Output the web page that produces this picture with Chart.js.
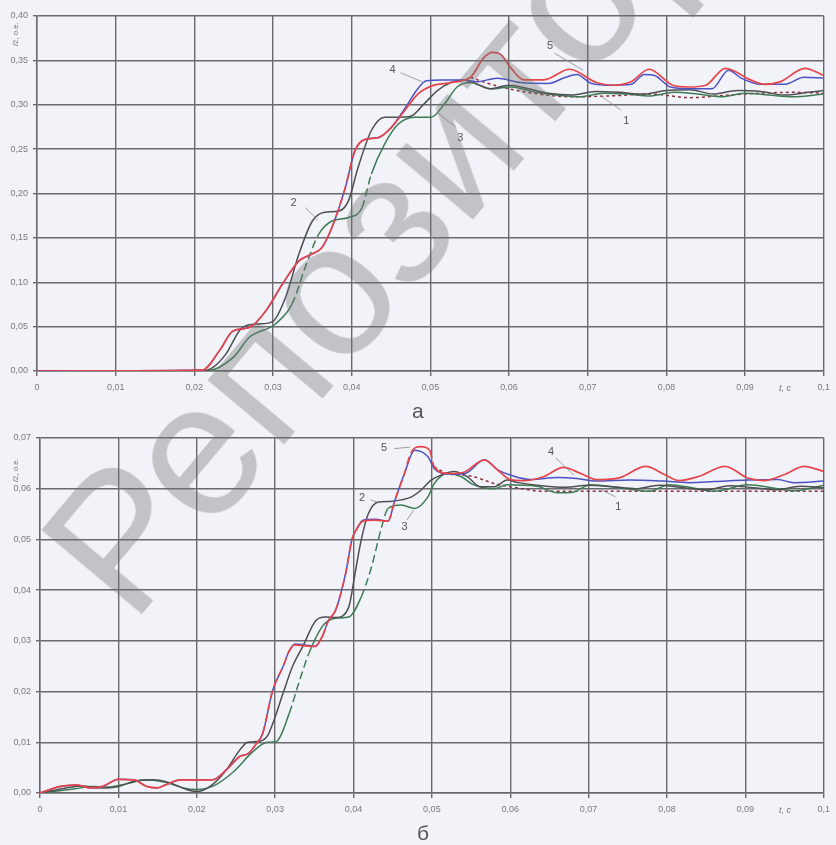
<!DOCTYPE html>
<html>
<head>
<meta charset="utf-8">
<script src="https://cdn.jsdelivr.net/npm/chart.js@4.4.1/dist/chart.umd.min.js"></script>
<style>
    body { margin: 0; width: 836px; height: 845px; overflow: hidden; position: relative;
           background: #f1f3f9; font-family: 'Liberation Sans', Arial, sans-serif; }
    .box { position: absolute; left: 0; width: 836px; height: 400px; }
    #boxA { top: 0; }
    #boxB { top: 420px; }
    .ytitle { position: absolute; font-size: 8px; color: #777; transform: rotate(-90deg);
              transform-origin: left top; white-space: nowrap; }
    .xtitle { position: absolute; font-size: 9px; color: #777; font-style: italic; }
    .cap { position: absolute; font-size: 21px; color: #555; }
    .wm { position: absolute; left: 0; top: 0; white-space: nowrap; pointer-events: none;
          font-size: 190px; color: rgba(110, 110, 110, 0.36); transform-origin: center center; }
</style>
</head>
<body>
<div class="box" id="boxA"><canvas id="chartA" width="836" height="400"></canvas></div>
<div class="box" id="boxB"><canvas id="chartB" width="836" height="400"></canvas></div>

<div class="ytitle" style="left:11px; top:46px;"><i>i</i>2, о.е.</div>
<div class="ytitle" style="left:11px; top:482px;"><i>i</i>2, о.е.</div>
<div class="xtitle" style="left:779px; top:383px;">t, c</div>
<div class="xtitle" style="left:779px; top:805px;">t, c</div>
<div class="cap" style="left:412px; top:399px;">а</div>
<div class="cap" style="left:417px; top:821px;">б</div>

<div class="wm" id="wm">Репозиторий</div>

<script>
// shared x axis
const xTicks = [0, 0.01, 0.02, 0.03, 0.04, 0.05, 0.06, 0.07, 0.08, 0.09, 0.1];
const xTickLabels = ['0', '0,01', '0,02', '0,03', '0,04', '0,05', '0,06', '0,07', '0,08', '0,09', '0,1'];

// chart "а"
const aTicks = [0, 0.05, 0.10, 0.15, 0.20, 0.25, 0.30, 0.35, 0.40];
const aTickLabels = ['0,00', '0,05', '0,10', '0,15', '0,20', '0,25', '0,30', '0,35', '0,40'];

const a5T = [0, 0.021, 0.0232, 0.0249, 0.027, 0.0291, 0.0312, 0.0333, 0.035, 0.0362, 0.0375, 0.0392, 0.0404, 0.0417, 0.0434, 0.045, 0.0467, 0.0484, 0.0501, 0.0526, 0.0551, 0.0568, 0.0579, 0.0589, 0.0601, 0.0619, 0.0644, 0.0677, 0.0711, 0.0732, 0.0755, 0.0778, 0.0808, 0.0828, 0.085, 0.0875, 0.0907, 0.0925, 0.0945, 0.0976, 0.1];
const a5V = [0, 0.001, 0.023, 0.045, 0.049, 0.068, 0.098, 0.124, 0.132, 0.139, 0.162, 0.207, 0.248, 0.261, 0.263, 0.274, 0.293, 0.312, 0.321, 0.325, 0.331, 0.353, 0.359, 0.357, 0.343, 0.328, 0.328, 0.340, 0.325, 0.322, 0.326, 0.340, 0.322, 0.320, 0.322, 0.341, 0.328, 0.323, 0.326, 0.341, 0.333];

const a4T = [0, 0.021, 0.0232, 0.0249, 0.027, 0.0291, 0.0312, 0.0333, 0.035, 0.0362, 0.0375, 0.0392, 0.0404, 0.0417, 0.0434, 0.045, 0.0467, 0.0484, 0.0495, 0.0515, 0.054, 0.056, 0.0585, 0.0615, 0.065, 0.0672, 0.0686, 0.0705, 0.073, 0.0755, 0.0772, 0.0785, 0.0805, 0.083, 0.0858, 0.0879, 0.0895, 0.092, 0.095, 0.0975, 0.1];
const a4V = [0, 0.001, 0.023, 0.045, 0.049, 0.068, 0.098, 0.124, 0.132, 0.139, 0.162, 0.207, 0.248, 0.261, 0.263, 0.274, 0.295, 0.318, 0.327, 0.328, 0.328, 0.326, 0.330, 0.325, 0.324, 0.331, 0.334, 0.324, 0.322, 0.323, 0.334, 0.333, 0.320, 0.318, 0.318, 0.339, 0.330, 0.323, 0.323, 0.331, 0.330];

const a2T = [0, 0.021, 0.0225, 0.024, 0.0261, 0.0282, 0.03, 0.0316, 0.0333, 0.035, 0.0366, 0.0383, 0.0396, 0.0408, 0.0425, 0.0442, 0.0459, 0.0475, 0.0492, 0.0509, 0.0526, 0.0543, 0.056, 0.0576, 0.06, 0.0625, 0.065, 0.068, 0.071, 0.074, 0.077, 0.08, 0.083, 0.086, 0.089, 0.092, 0.095, 0.098, 0.1];
const a2V = [0, 0, 0.005, 0.019, 0.049, 0.053, 0.056, 0.083, 0.132, 0.169, 0.179, 0.180, 0.192, 0.229, 0.271, 0.286, 0.286, 0.287, 0.301, 0.316, 0.325, 0.328, 0.323, 0.318, 0.322, 0.318, 0.313, 0.311, 0.315, 0.314, 0.312, 0.316, 0.317, 0.312, 0.316, 0.315, 0.311, 0.314, 0.316];

const a3T = [0, 0.0215, 0.0249, 0.027, 0.0303, 0.0324, 0.0341, 0.0358, 0.0375, 0.0396, 0.0413, 0.0425, 0.0442, 0.0459, 0.048, 0.0501, 0.0518, 0.0534, 0.0551, 0.0576, 0.0602, 0.063, 0.066, 0.069, 0.072, 0.075, 0.078, 0.081, 0.084, 0.087, 0.09, 0.093, 0.096, 0.1];
const a3V = [0, 0, 0.015, 0.038, 0.053, 0.075, 0.117, 0.154, 0.169, 0.173, 0.184, 0.222, 0.256, 0.278, 0.286, 0.286, 0.301, 0.320, 0.325, 0.318, 0.320, 0.315, 0.311, 0.309, 0.313, 0.312, 0.310, 0.314, 0.312, 0.309, 0.313, 0.311, 0.309, 0.312];

const a1T = [0.0551, 0.057, 0.0595, 0.063, 0.068, 0.073, 0.078, 0.083, 0.088, 0.092, 0.096, 0.1];
const a1V = [0.331, 0.325, 0.319, 0.313, 0.309, 0.310, 0.312, 0.308, 0.311, 0.313, 0.314, 0.313];

// chart "б"
const bTicks = [0, 0.01, 0.02, 0.03, 0.04, 0.05, 0.06, 0.07];
const bTickLabels = ['0,00', '0,01', '0,02', '0,03', '0,04', '0,05', '0,06', '0,07'];

const b5T = [0, 0.0026, 0.0047, 0.0064, 0.008, 0.01, 0.012, 0.0136, 0.015, 0.016, 0.018, 0.02, 0.022, 0.0238, 0.0255, 0.0266, 0.0276, 0.0284, 0.0297, 0.031, 0.0318, 0.0325, 0.0338, 0.0351, 0.036, 0.0368, 0.0377, 0.039, 0.0398, 0.0404, 0.0412, 0.0428, 0.0444, 0.0453, 0.0465, 0.0474, 0.0486, 0.0497, 0.0503, 0.0521, 0.054, 0.0567, 0.0584, 0.06, 0.062, 0.0643, 0.0668, 0.069, 0.071, 0.074, 0.0773, 0.0798, 0.0815, 0.084, 0.0874, 0.0903, 0.0924, 0.095, 0.0975, 0.1];
const b5V = [0, 0.0013, 0.0016, 0.001, 0.0013, 0.0027, 0.0026, 0.0013, 0.001, 0.0016, 0.0026, 0.0026, 0.0026, 0.0046, 0.0072, 0.0078, 0.0097, 0.0117, 0.0203, 0.0249, 0.028, 0.0292, 0.029, 0.0289, 0.0308, 0.034, 0.036, 0.0433, 0.05, 0.052, 0.0536, 0.0538, 0.0536, 0.0578, 0.063, 0.0673, 0.0683, 0.0676, 0.0643, 0.063, 0.0632, 0.0657, 0.0637, 0.0618, 0.0616, 0.0624, 0.0642, 0.063, 0.0618, 0.0622, 0.0644, 0.0627, 0.0616, 0.0624, 0.0644, 0.0621, 0.0616, 0.0628, 0.0644, 0.0634];

const b4T = [0, 0.0026, 0.0047, 0.0064, 0.008, 0.01, 0.012, 0.0136, 0.015, 0.016, 0.018, 0.02, 0.022, 0.0238, 0.0255, 0.0266, 0.0276, 0.0284, 0.0297, 0.031, 0.0318, 0.0325, 0.0338, 0.0351, 0.036, 0.0368, 0.0377, 0.039, 0.0398, 0.0404, 0.0412, 0.0428, 0.0444, 0.0453, 0.0465, 0.0478, 0.0495, 0.0503, 0.0521, 0.0542, 0.0567, 0.0584, 0.06, 0.0626, 0.066, 0.0685, 0.071, 0.0752, 0.0794, 0.0828, 0.086, 0.0903, 0.0941, 0.0962, 0.1];
const b4V = [0, 0.0013, 0.0016, 0.001, 0.0013, 0.0027, 0.0026, 0.0013, 0.001, 0.0016, 0.0026, 0.0026, 0.0026, 0.0046, 0.0072, 0.0078, 0.0097, 0.0117, 0.0203, 0.0249, 0.028, 0.0294, 0.0292, 0.0289, 0.0308, 0.034, 0.036, 0.0433, 0.05, 0.052, 0.0538, 0.054, 0.0536, 0.0578, 0.063, 0.0676, 0.0663, 0.064, 0.0629, 0.063, 0.0657, 0.0637, 0.0627, 0.0618, 0.0622, 0.062, 0.0615, 0.0617, 0.0615, 0.0612, 0.0614, 0.0617, 0.0618, 0.0612, 0.0615];

const b2T = [0, 0.0034, 0.0055, 0.0077, 0.01, 0.012, 0.0145, 0.0166, 0.0187, 0.02, 0.0217, 0.0238, 0.0255, 0.0265, 0.028, 0.029, 0.0297, 0.031, 0.0322, 0.0335, 0.0352, 0.0364, 0.0378, 0.0394, 0.0402, 0.041, 0.0419, 0.0432, 0.0446, 0.0461, 0.0474, 0.0486, 0.0499, 0.0512, 0.0528, 0.0545, 0.0562, 0.058, 0.0596, 0.061, 0.064, 0.067, 0.07, 0.073, 0.076, 0.079, 0.082, 0.085, 0.088, 0.091, 0.094, 0.097, 0.1];
const b2V = [0, 0.001, 0.0014, 0.001, 0.0013, 0.0023, 0.0026, 0.002, 0.0007, 0.0003, 0.0013, 0.0046, 0.0085, 0.0100, 0.0102, 0.0112, 0.0137, 0.0196, 0.0249, 0.0288, 0.034, 0.0347, 0.0346, 0.0367, 0.0433, 0.05, 0.0551, 0.0574, 0.0575, 0.0578, 0.0584, 0.0597, 0.0617, 0.0627, 0.0634, 0.0624, 0.0604, 0.0604, 0.0617, 0.0612, 0.0606, 0.0603, 0.0607, 0.0604, 0.0600, 0.0607, 0.0602, 0.0598, 0.0606, 0.0602, 0.0598, 0.0605, 0.0602];

const b3T = [0, 0.0043, 0.0068, 0.0089, 0.011, 0.0136, 0.016, 0.0183, 0.02, 0.022, 0.0247, 0.0272, 0.029, 0.0301, 0.0318, 0.033, 0.0343, 0.036, 0.0368, 0.038, 0.0394, 0.041, 0.0423, 0.0436, 0.0444, 0.0461, 0.0478, 0.0495, 0.0503, 0.052, 0.0537, 0.0554, 0.058, 0.0596, 0.0634, 0.066, 0.068, 0.0702, 0.0744, 0.0777, 0.0803, 0.0835, 0.0861, 0.0903, 0.0941, 0.0962, 0.1];
const b3V = [0, 0.0008, 0.0013, 0.0012, 0.0018, 0.0026, 0.0021, 0.001, 0.0007, 0.0013, 0.0042, 0.0082, 0.0100, 0.0101, 0.0157, 0.0216, 0.0275, 0.0328, 0.034, 0.0345, 0.0347, 0.0387, 0.0446, 0.0525, 0.0561, 0.0568, 0.0561, 0.0584, 0.061, 0.063, 0.0624, 0.0607, 0.06, 0.0608, 0.0605, 0.0592, 0.0593, 0.0608, 0.0601, 0.0595, 0.0608, 0.0601, 0.0595, 0.0608, 0.06, 0.0596, 0.0607];

const b1T = [0.0503, 0.052, 0.055, 0.058, 0.0615, 0.064, 0.07, 0.08, 0.09, 0.1];
const b1V = [0.0643, 0.063, 0.0625, 0.061, 0.060, 0.0595, 0.0595, 0.0595, 0.0595, 0.0595];

// curve numbers: [text, x, y, leader x0, y0, x1, y1] in data units
const aNotes = [
    ['5', 0.0652, 0.366, 0.0658, 0.358, 0.0694, 0.339],
    ['4', 0.0452, 0.339, 0.0462, 0.336, 0.0492, 0.325],
    ['3', 0.0538, 0.263, 0.0532, 0.275, 0.0509, 0.291],
    ['2', 0.0326, 0.189, 0.0341, 0.184, 0.0357, 0.170],
    ['1', 0.0749, 0.282, 0.0742, 0.294, 0.0715, 0.311]
];
const bNotes = [
    ['5', 0.0439, 0.0680, 0.0452, 0.0679, 0.0472, 0.0682],
    ['4', 0.0652, 0.0673, 0.0658, 0.0661, 0.0681, 0.0627],
    ['2', 0.0411, 0.0582, 0.0422, 0.0578, 0.0433, 0.0572],
    ['3', 0.0465, 0.0525, 0.0468, 0.0538, 0.0477, 0.0558],
    ['1', 0.0738, 0.0564, 0.0734, 0.0584, 0.0716, 0.0598]
];

const gridColor = '#6a6a6e';
const tickColor = '#7a7a7e';

function pts(t, v) {
    return t.map((x, i) => ({ x: x, y: v[i] }));
}

// steep parts of the scanned curves look broken into dashes
function steepDash(yMax) {
    return ctx => {
        const dx = (ctx.p1.parsed.x - ctx.p0.parsed.x) / 0.1;
        const dy = Math.abs(ctx.p1.parsed.y - ctx.p0.parsed.y) / yMax;
        return dx > 0 && dy / dx > 5 ? [8, 4] : undefined;
    };
}

function line(data, color, width, yMax, dashSteep, dash) {
    return {
        data: data,
        borderColor: color,
        borderWidth: width,
        borderDash: dash || [],
        pointRadius: 0,
        fill: false,
        cubicInterpolationMode: 'monotone',
        segment: dashSteep ? { borderDash: steepDash(yMax) } : {}
    };
}

const notesPlugin = {
    id: 'notes',
    afterDatasetsDraw(chart, args, opts) {
        const c = chart.ctx, xs = chart.scales.x, ys = chart.scales.y;
        c.save();
        c.strokeStyle = '#8a8a8e';
        c.lineWidth = 0.8;
        c.fillStyle = '#555';
        c.font = '11px "Liberation Sans", Arial, sans-serif';
        c.textAlign = 'center';
        c.textBaseline = 'middle';
        opts.list.forEach(n => {
            c.beginPath();
            c.moveTo(xs.getPixelForValue(n[3]), ys.getPixelForValue(n[4]));
            c.lineTo(xs.getPixelForValue(n[5]), ys.getPixelForValue(n[6]));
            c.stroke();
            c.fillText(n[0], xs.getPixelForValue(n[1]), ys.getPixelForValue(n[2]));
        });
        c.restore();
    }
};

function makeChart(id, datasets, yMax, yTicks, yLabels, padTop, yWidth, xHeight, notes) {
    return new Chart(document.getElementById(id), {
        type: 'line',
        data: { datasets: datasets },
        plugins: [notesPlugin],
        options: {
            responsive: false,
            animation: false,
            layout: { padding: { top: padTop, right: 7, left: 0, bottom: 0 } },
            plugins: { legend: { display: false }, tooltip: { enabled: false }, notes: { list: notes } },
            scales: {
                x: {
                    type: 'linear', min: 0, max: 0.1,
                    afterBuildTicks: s => { s.ticks = xTicks.map(v => ({ value: v })); },
                    afterFit: s => { s.height = xHeight; },
                    ticks: { callback: (v, i) => xTickLabels[i], color: tickColor, padding: 6,
                             maxRotation: 0, autoSkip: false, font: { size: 9 } },
                    grid: { color: gridColor, lineWidth: 1.4, tickLength: 5 },
                    border: { color: gridColor, width: 1.4 }
                },
                y: {
                    min: 0, max: yMax,
                    afterBuildTicks: s => { s.ticks = yTicks.map(v => ({ value: v })); },
                    afterFit: s => { s.width = yWidth; },
                    ticks: { callback: (v, i) => yLabels[i], color: tickColor, padding: 5,
                             autoSkip: false, font: { size: 9 } },
                    grid: { color: gridColor, lineWidth: 1.4, tickLength: 4 },
                    border: { color: gridColor, width: 1.4 }
                }
            }
        }
    });
}

const red = '#e8454b', blue = '#4b52c4', dark = '#4d4f52', green = '#3f7b55', maroon = '#8e2f3e';

makeChart('chartA', [
    line(pts(a5T, a5V), red, 1.7, 0.4, true),
    line(pts(a4T, a4V), blue, 1.5, 0.4, false),
    line(pts(a2T, a2V), dark, 1.5, 0.4, false),
    line(pts(a3T, a3V), green, 1.5, 0.4, true),
    line(pts(a1T, a1V), maroon, 1.5, 0.4, false, [3, 3])
], 0.4, aTicks, aTickLabels, 16, 37, 29, aNotes);

makeChart('chartB', [
    line(pts(b5T, b5V), red, 1.7, 0.07, true),
    line(pts(b4T, b4V), blue, 1.5, 0.07, false),
    line(pts(b2T, b2V), dark, 1.5, 0.07, false),
    line(pts(b3T, b3V), green, 1.5, 0.07, true),
    line(pts(b1T, b1V), maroon, 1.5, 0.07, false, [3, 3])
], 0.07, bTicks, bTickLabels, 18, 40, 27, bNotes);

// watermark across both charts
const wm = document.getElementById('wm');
wm.style.transform = 'translate(' + (445 - wm.offsetWidth / 2) + 'px,' + (150 - wm.offsetHeight / 2) + 'px) rotate(-50deg)';
</script>
</body>
</html>
